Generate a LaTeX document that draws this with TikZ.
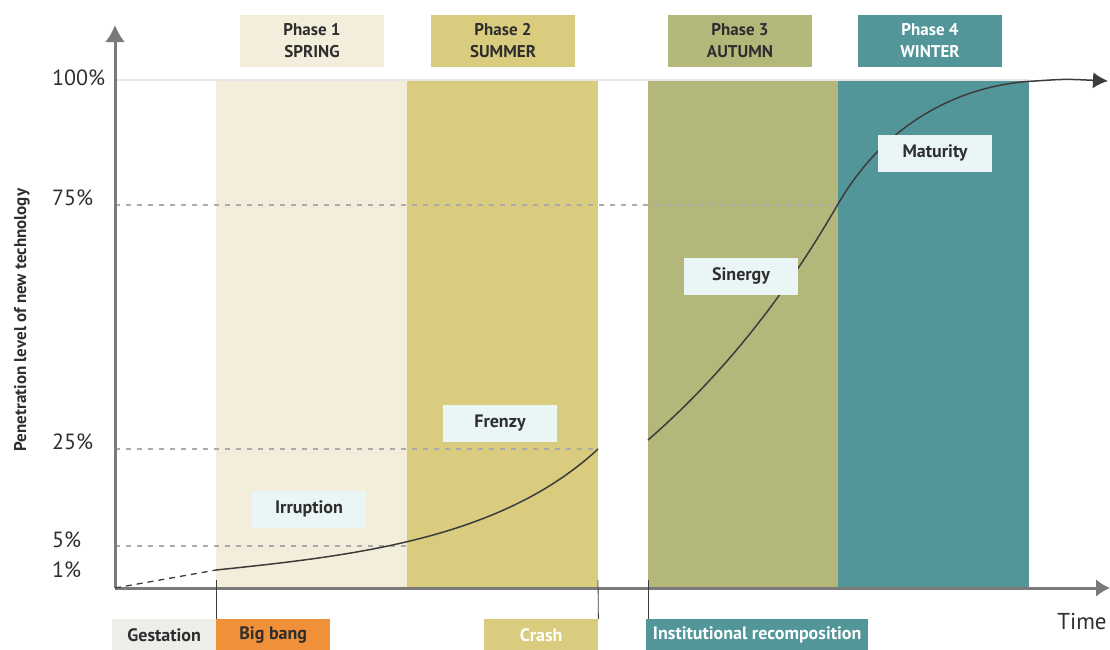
\documentclass[tikz,border=0pt]{standalone}
\usepackage{fontspec}
\setmainfont{PT Sans}
\usepackage{xcolor}
\usepackage{tikz}
\usetikzlibrary{arrows.meta,positioning}

\definecolor{spring}{HTML}{F3EEDB}
\definecolor{summer}{HTML}{D9CC7E}
\definecolor{autumn}{HTML}{B3B87A}
\definecolor{winter}{HTML}{52969A}
\definecolor{stagefill}{HTML}{EAF5F6}
\definecolor{gestfill}{HTML}{EFEDE9}
\definecolor{bangfill}{HTML}{F0913A}
\definecolor{textdark}{HTML}{2E2E2E}
\definecolor{axisgray}{HTML}{7A7A7A}
\definecolor{dashgray}{HTML}{ABABAB}
\definecolor{curvegray}{HTML}{3C3C3C}

\begin{document}
\begin{tikzpicture}[x=1pt,y=-1pt,
    phasebox/.style={fill=#1, minimum width=144pt, minimum height=52pt, align=center, inner sep=0pt,
      font=\fontsize{17}{22}\selectfont\bfseries, text=textdark},
    stagebox/.style={fill=stagefill, minimum width=114pt, minimum height=37pt, inner sep=0pt,
      font=\fontsize{18}{20}\selectfont\bfseries, text=textdark},
    eventbox/.style={fill=#1, minimum height=31pt, anchor=north west, inner sep=0pt,
      font=\fontsize{18}{20}\selectfont\bfseries, text=textdark},
    level/.style={anchor=west, inner sep=0pt, font=\fontsize{22}{24}\selectfont, text=textdark},
    guide/.style={dashgray, line width=1.2pt, dash pattern=on 5pt off 6pt}]
    \useasboundingbox (0,0) rectangle (1110,649);
		% phases
		\fill[spring] (216,80) rectangle (407,588);
		\fill[summer] (407,80) rectangle (598,588);
		\fill[autumn] (648,80) rectangle (838,588);
		\fill[winter] (838,80) rectangle (1029,588);
		\draw[line width=1.2pt,black!10] (115,80) -- (1029,80);
		\draw[guide] (115,205) -- (838,205);
		\draw[guide] (115,449) -- (598,449);
		\draw[guide] (115,546) -- (407,546);
		% axes
		\coordinate (origin) at (115,588);
		\coordinate (y axis) at (115,25);
		\coordinate (x axis) at (1110,588);
		\draw[-{Latex[length=17pt,width=20pt]},line width=3pt,axisgray] (origin) -- (y axis);
		\draw[-{Latex[length=14pt,width=18pt]},line width=3pt,axisgray] (origin) -- (x axis);
		\node[level] (p100) at (52,78) {100\%};
		\node[level] (p75) at (52,198) {75\%};
		\node[level] (p25) at (52,442) {25\%};
		\node[level] (p5) at (52,540) {5\%};
		\node[level] (p1) at (52,570) {1\%};
		\node[rotate=90, font=\fontsize{17}{19}\selectfont\bfseries, text=textdark] (ytitle) at (22,320) {Penetration level of new technology};
		\node[font=\fontsize{23}{25}\selectfont, text=textdark] (time) at (1082,621) {Time};
		% curve
		\coordinate (bang) at (216,570);
		\coordinate (crash) at (598,449);
		\coordinate (recover) at (648,440);
		\coordinate (turn) at (838,204);
		\coordinate (top) at (1108,81);
		\draw[curvegray,line width=1.3pt,dash pattern=on 6pt off 5pt] (origin) -- (bang);
		\draw[curvegray,line width=1.5pt] (bang) .. controls (350,556) and (500,540) .. (crash);
		\draw[curvegray,line width=1.5pt,-{Latex[length=15pt,width=16pt]}] (recover) .. controls (740,360) and (800,270) .. (turn)
		  .. controls (890,115) and (970,84) .. (1035,81) .. controls (1065,79) .. (top);
		% labels
		\node[phasebox=spring] (phase1) at (312,41) {Phase 1\\SPRING};
		\node[phasebox=summer] (phase2) at (503,41) {Phase 2\\SUMMER};
		\node[phasebox=autumn] (phase3) at (740,41) {Phase 3\\AUTUMN};
		\node[phasebox=winter,text=white] (phase4) at (930,41) {Phase 4\\WINTER};
		\node[stagebox] (irruption) at (309,509) {Irruption};
		\node[stagebox] (frenzy) at (500,423) {Frenzy};
		\node[stagebox] (sinergy) at (741,276) {Sinergy};
		\node[stagebox] (maturity) at (935,153) {Maturity};
		\node[eventbox=gestfill, minimum width=104pt] (gestation) at (112,619) {Gestation};
		\node[eventbox=bangfill, minimum width=114pt] (bigbang) at (216,619) {Big bang};
		\node[eventbox=summer, minimum width=114pt, text=white] (crashbox) at (484,619) {Crash};
		\node[eventbox=winter, minimum width=222pt, text=white] (recomp) at (646,619) {Institutional recomposition};
		\draw[curvegray,line width=0.8pt] (216,580) -- (bigbang.north west);
		\draw[curvegray,line width=0.8pt] (598,580) -- (crashbox.north east);
		\draw[curvegray,line width=0.8pt] (648,580) -- ([xshift=2pt]recomp.north west);
	\end{tikzpicture}
\end{document}
